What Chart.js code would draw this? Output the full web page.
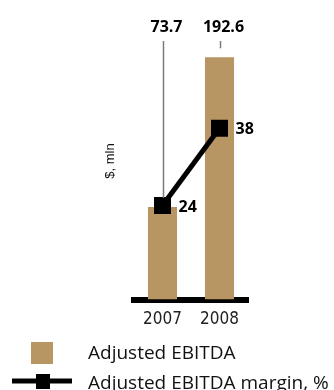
<!DOCTYPE html>
<html>
<head>
<meta charset="utf-8">
<script src="https://cdn.jsdelivr.net/npm/chart.js@4/dist/chart.umd.min.js"></script>
<style>
  html, body { margin: 0; padding: 0; background: #fff; }
  #wrap { width: 334px; height: 390px; }
</style>
</head>
<body>
<div id="wrap"><canvas id="ebitda" width="334" height="390"></canvas></div>
<script>
const years = ["2007", "2008"];
const ebitda = [73.7, 192.6];
const margin = [24, 38];
const seriesNames = ["Adjusted EBITDA", "Adjusted EBITDA margin, %"];
const unitLabel = "$, mln";

const tan = "#b79664";
const narrow = "'Liberation Sans Narrow', 'DejaVu Sans Condensed', sans-serif";
const sans = "'Open Sans', 'Noto Sans', sans-serif";

// captions, leader lines, unit label and the hand-laid legend
const annotations = {
  id: "annotations",
  afterDraw(chart) {
    const ctx = chart.ctx;
    const area = chart.chartArea;
    const points = chart.getDatasetMeta(0).data;
    const bars = chart.getDatasetMeta(1).data;
    ctx.save();

    bars.forEach((bar, i) => {
      ctx.fillStyle = "#000";
      ctx.font = "bold 16px " + sans;
      ctx.textAlign = "center";
      ctx.textBaseline = "alphabetic";
      ctx.fillText(ebitda[i].toFixed(1), bar.x + 4, area.top - 16);
      ctx.strokeStyle = "#7a7a7a";
      ctx.lineWidth = 1.5;
      ctx.beginPath();
      ctx.moveTo(bar.x + 1, area.top - 7);
      ctx.lineTo(bar.x + 1, bar.y - 9);
      ctx.stroke();
    });

    ctx.font = "bold 16px " + sans;
    ctx.textAlign = "left";
    points.forEach((pt, i) => {
      ctx.fillText(String(margin[i]), pt.x + 16, pt.y + 6);
    });

    // vertical unit caption
    ctx.save();
    ctx.translate(area.left - 24, area.top + 113);
    ctx.rotate(-Math.PI / 2);
    ctx.font = "13px 'Liberation Sans', sans-serif";
    ctx.textAlign = "center";
    ctx.textBaseline = "middle";
    ctx.fillStyle = "#111";
    ctx.fillText(unitLabel, 0, 0);
    ctx.restore();

    // legend
    const h = chart.height;
    ctx.font = "19px " + sans;
    ctx.textAlign = "left";
    ctx.textBaseline = "alphabetic";
    ctx.fillStyle = tan;
    ctx.fillRect(31, h - 48, 22, 22);
    ctx.fillStyle = "#111";
    ctx.fillText(seriesNames[0], 88, h - 31);
    ctx.fillStyle = "#000";
    ctx.fillRect(12, h - 11.5, 60, 5);
    ctx.fillRect(36, h - 16, 14, 15);
    ctx.fillStyle = "#111";
    ctx.fillText(seriesNames[1], 88, h - 1);

    ctx.restore();
  }
};

new Chart(document.getElementById("ebitda"), {
  data: {
    labels: years,
    datasets: [
      {
        type: "line",
        label: seriesNames[1],
        data: margin,
        yAxisID: "y2",
        borderColor: "#000",
        borderWidth: 5,
        tension: 0,
        pointStyle: "rect",
        pointRadius: 12,
        pointBorderWidth: 0,
        pointBackgroundColor: "#000",
        order: 0
      },
      {
        type: "bar",
        label: seriesNames[0],
        data: ebitda,
        yAxisID: "y",
        backgroundColor: tan,
        barPercentage: 0.51,
        categoryPercentage: 1,
        order: 1
      }
    ]
  },
  options: {
    responsive: false,
    animation: false,
    devicePixelRatio: 1,
    layout: { padding: { top: 48, bottom: 50, left: 134, right: 86 } },
    plugins: {
      legend: { display: false },
      tooltip: { enabled: false }
    },
    scales: {
      x: {
        z: 1,
        grid: { display: false, drawTicks: false },
        border: { display: true, color: "#000", width: 6 },
        ticks: {
          color: "#222",
          padding: 10,
          font: { family: narrow, size: 17 }
        }
      },
      y: { display: false, min: 0, max: 200 },
      y2: { display: false, min: 7, max: 52.5 }
    }
  },
  plugins: [annotations]
});
</script>
</body>
</html>
